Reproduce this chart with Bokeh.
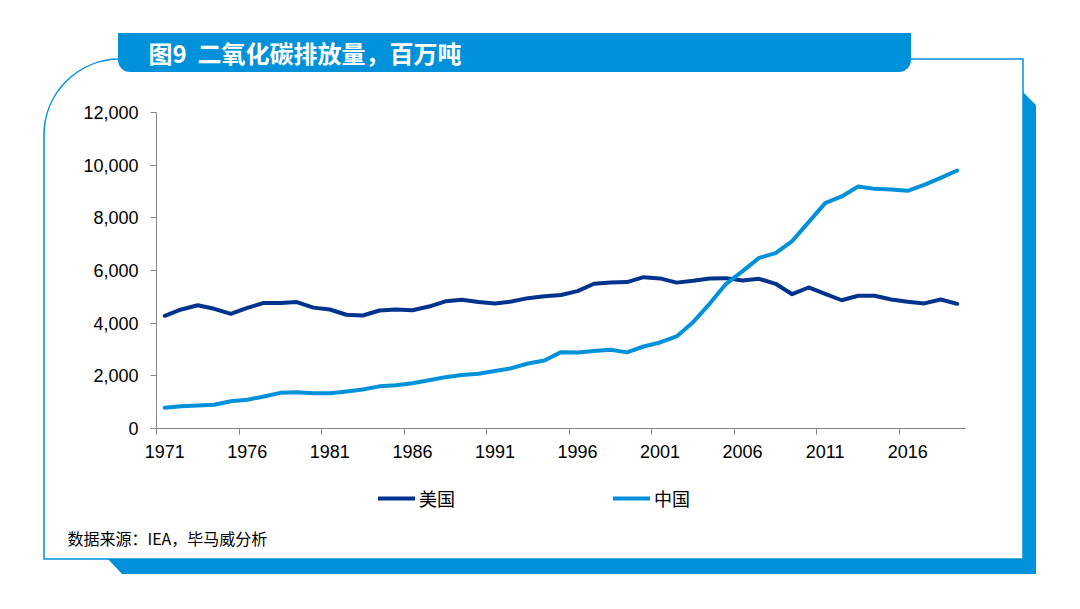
from urllib.parse import quote
from bokeh.plotting import figure
from bokeh.models import (Range1d, LinearAxis, FixedTicker, NumeralTickFormatter, Legend,
                          LegendItem, Label, Grid, CustomJSTickFormatter)
from bokeh.embed import file_html
from bokeh.resources import INLINE

years = list(range(1971, 2020))
us = [4280, 4520, 4680, 4545, 4355, 4580, 4770, 4770, 4800, 4590,
      4520, 4320, 4290, 4480, 4520, 4490, 4630, 4830, 4890, 4800,
      4750, 4820, 4950, 5020, 5070, 5215, 5495, 5540, 5560, 5748,
      5700, 5540, 5610, 5700, 5710, 5620, 5683, 5495, 5100, 5355,
      5115, 4870, 5040, 5040, 4900, 4815, 4750, 4900, 4735]
china = [785, 847, 873, 899, 1036, 1089, 1215, 1354, 1380, 1340,
         1335, 1405, 1480, 1600, 1640, 1720, 1830, 1950, 2030, 2080,
         2180, 2290, 2470, 2582, 2900, 2890, 2940, 2990, 2890, 3114,
         3266, 3494, 4037, 4735, 5495, 5975, 6481, 6658, 7114, 7836,
         8557, 8811, 9190, 9100, 9080, 9025, 9253, 9520, 9798]
label_years = years[::5][:10]
tick_bounds = [y - 0.5 for y in label_years]
y_ticks = [0, 2000, 4000, 6000, 8000, 10000, 12000]
series_names = ["美国", "中国"]
title_text = "图9\u00a0\u00a0二氧化碳排放量，百万吨"
source_text = "数据来源：IEA，毕马威分析"

BLUE = "#0091DA"
NAVY = "#00338D"
AXIS = "#868686"
W, H = 1080, 609

# plot area placement in page pixels
PX_LEFT, PX_RIGHT, PX_TOP, PX_BOTTOM = 156, 965, 112, 428
x0, x1 = years[0] - 0.5, years[-1] + 0.5
y0, y1 = y_ticks[0], y_ticks[-1]
sx = (PX_RIGHT - PX_LEFT) / (x1 - x0)
sy = (PX_BOTTOM - PX_TOP) / (y1 - y0)
x_range = Range1d(x0 - PX_LEFT / sx, x1 + (W - PX_RIGHT) / sx)
y_range = Range1d(y0 - (H - PX_BOTTOM) / sy, y1 + PX_TOP / sy)

# decorative frame drawn as a CSS background behind the transparent canvas
deco = (
    f"<svg xmlns='http://www.w3.org/2000/svg' width='{W}' height='{H}'>"
    f"<rect width='{W}' height='{H}' fill='white'/>"
    f"<path d='M44,559 L44,135 A76,76 0 0 1 120,59 L1023,59 L1023,559 Z' fill='none' stroke='{BLUE}' stroke-width='1.5'/>"
    f"<path d='M1023,92 L1036,105 L1036,574 L122,574 L108,559 L1023,559 Z' fill='{BLUE}'/>"
    f"<path d='M118,33 L911,33 L911,60 A12,12 0 0 1 899,72 L130,72 A12,12 0 0 1 118,60 Z' fill='{BLUE}'/>"
    "</svg>"
)
deco_url = "url(\"data:image/svg+xml," + quote(deco) + "\")"

p = figure(width=W, height=H, output_backend="svg", toolbar_location=None,
           x_range=x_range, y_range=y_range,
           x_axis_location=None, y_axis_location=None,
           min_border=0, min_border_left=0, min_border_right=0, min_border_top=0,
           min_border_bottom=0,
           outline_line_color=None, background_fill_alpha=0, border_fill_alpha=0)
p.styles = {"background-image": deco_url, "background-repeat": "no-repeat",
            "background-color": "white"}
for r in list(p.center):
    if isinstance(r, Grid):
        r.visible = False

yax = LinearAxis(ticker=FixedTicker(ticks=y_ticks), formatter=NumeralTickFormatter(format="0,0"),
                 fixed_location=x0, bounds=(y0, y1),
                 axis_line_color=AXIS, major_tick_line_color=AXIS, major_tick_out=6, major_tick_in=0,
                 minor_tick_out=0, minor_tick_in=0, major_label_standoff=12,
                 major_label_text_font="Liberation Sans", major_label_text_font_size="18px",
                 major_label_text_color="black")
p.add_layout(yax, "left")

xax_ticks = LinearAxis(ticker=FixedTicker(ticks=tick_bounds), fixed_location=y0, bounds=(x0, x1),
                       axis_line_color=AXIS,
                       major_tick_line_color=AXIS, major_tick_out=6, major_tick_in=0,
                       minor_tick_out=0, minor_tick_in=0, major_label_standoff=0,
                       formatter=CustomJSTickFormatter(code="return ''"))
p.add_layout(xax_ticks, "below")
xax_labels = LinearAxis(ticker=FixedTicker(ticks=label_years), fixed_location=y0, bounds=(x0, x1),
                        axis_line_color=None,
                        major_tick_line_color=None, major_tick_out=0, major_tick_in=0,
                        minor_tick_out=0, minor_tick_in=0, major_label_standoff=16,
                        major_label_text_font="Liberation Sans", major_label_text_font_size="18px",
                        major_label_text_color="black")
p.add_layout(xax_labels, "below")

r_us = p.line(years, us, line_color=NAVY, line_width=4, line_join="round", line_cap="round")
r_cn = p.line(years, china, line_color=BLUE, line_width=4, line_join="round", line_cap="round")

legend = Legend(items=[LegendItem(label=series_names[0], renderers=[r_us]),
                       LegendItem(label=series_names[1], renderers=[r_cn])],
                orientation="horizontal", location=(378, H - 511), spacing=105,
                glyph_width=37, glyph_height=20, label_standoff=4, label_height=20,
                label_width=89,
                label_text_font="Noto Sans CJK SC", label_text_font_size="18px",
                label_text_color="black", border_line_color=None, background_fill_alpha=0,
                padding=0, margin=0)
p.add_layout(legend, "center")

p.add_layout(Label(x=148, y=H - 52, x_units="screen", y_units="screen", text=title_text,
                   text_font="Noto Sans CJK SC", text_font_size="24px", text_font_style="bold",
                   text_color="white", text_align="left", text_baseline="middle"))
p.add_layout(Label(x=67, y=H - 537, x_units="screen", y_units="screen", text=source_text,
                   text_font="Noto Sans CJK SC", text_font_size="16px",
                   text_color="black", text_align="left", text_baseline="middle"))

open("out.html", "w").write(file_html(p, INLINE))
